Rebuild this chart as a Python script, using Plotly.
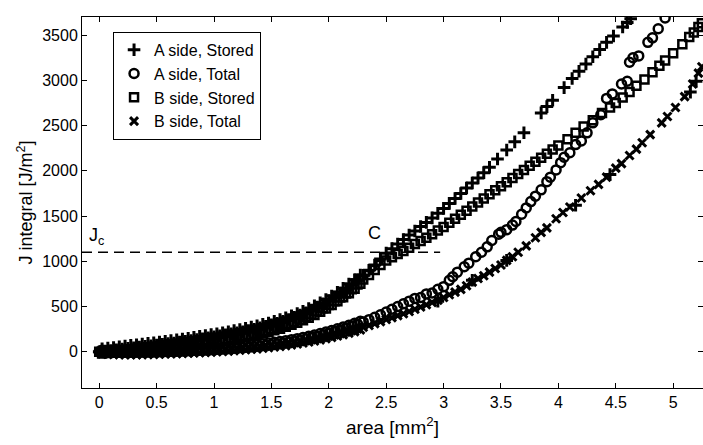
import plotly.graph_objects as go

# ---------------- data ----------------
x_low = [0.00, 0.05, 0.10, 0.15, 0.20, 0.25, 0.30, 0.35, 0.40, 0.45, 0.50, 0.55, 0.60, 0.65, 0.70,
         0.75, 0.80, 0.85, 0.90, 0.95, 1.00, 1.05, 1.10, 1.15, 1.20, 1.25, 1.30, 1.35, 1.40, 1.45,
         1.50, 1.55, 1.60, 1.65, 1.70, 1.75, 1.80, 1.85, 1.90, 1.95, 2.00, 2.05, 2.10, 2.15, 2.20,
         2.25, 2.30, 2.35, 2.40, 2.45, 2.50]

# extra samples in the dense (solid-looking) part of the bands
x_mid = [0.025, 0.075, 0.125, 0.175, 0.225, 0.275, 0.325, 0.375, 0.425, 0.475, 0.525, 0.575,
         0.625, 0.675, 0.725, 0.775, 0.825, 0.875, 0.925, 0.975, 1.025, 1.075, 1.125, 1.175,
         1.225, 1.275, 1.325, 1.375, 1.425, 1.475, 1.525, 1.575, 1.625, 1.675, 1.725, 1.775,
         1.825, 1.875, 1.925, 1.975, 2.025, 2.075, 2.125, 2.175, 2.225, 2.275]

a_stored_x = x_low + [2.55, 2.60, 2.65, 2.70, 2.75, 2.80, 2.85, 2.90, 2.95, 3.00, 3.05, 3.10, 3.15,
                      3.20, 3.25, 3.30, 3.35, 3.40, 3.47, 3.55, 3.62, 3.70, 3.85, 3.90, 3.95, 4.05,
                      4.12, 4.18, 4.24, 4.30, 4.36, 4.42, 4.48, 4.56, 4.60, 4.63]
a_stored_y = [0, 8, 15, 22, 30, 38, 45, 52, 60, 66, 74, 82, 90, 98, 107, 116, 125, 135, 145, 155,
              165, 176, 187, 198, 210, 222, 236, 250, 265, 281, 298, 316, 336, 357, 380, 405, 432,
              462, 495, 530, 567, 607, 650, 695, 742, 792, 845, 900, 960, 1025, 1090,
              1140, 1190, 1240, 1290, 1335, 1385, 1430, 1480, 1530, 1585, 1640, 1695, 1750,
              1810, 1865, 1920, 1980, 2040, 2130, 2230, 2320, 2420, 2640, 2710, 2780, 2920,
              3020, 3100, 3180, 3260, 3340, 3420, 3490, 3590, 3640, 3680]
a_stored_mid_y = [34, 41, 48, 56, 64, 71, 78, 86, 93, 100, 108, 116, 124, 132, 141, 150, 160, 170,
                  180, 190, 200, 211, 222, 234, 246, 259, 273, 287, 303, 319, 337, 356, 376, 398,
                  422, 448, 477, 508, 542, 578, 617, 658, 702, 748, 797, 848]

# a few "+" marks that sit on the lowest curve
a_stored_low_x = [2.95, 3.25, 3.55, 4.15, 4.45, 5.15, 5.20]
a_stored_low_y = [560, 790, 1010, 1620, 1960, 2870, 2990]

a_total_x = x_low + [2.55, 2.60, 2.65, 2.70, 2.75, 2.80, 2.85, 2.90, 2.95, 3.00, 3.05, 3.08, 3.12,
                     3.18, 3.22, 3.28, 3.33, 3.38, 3.42, 3.48, 3.50, 3.55, 3.60, 3.63, 3.68, 3.72,
                     3.76, 3.80, 3.85, 3.90, 3.93, 3.98, 4.02, 4.05, 4.10, 4.15, 4.20, 4.25, 4.30,
                     4.37, 4.42, 4.47, 4.55, 4.60, 4.62, 4.65, 4.70, 4.78, 4.82, 4.87, 4.93]
a_total_y = [0, -3, -6, -8, -9, -9, -9, -8, -7, -6, -4, -2, 0, 2, 4, 6, 9, 12, 15, 18, 22, 26, 30,
             35, 40, 45, 51, 57, 64, 72, 80, 89, 98, 108, 119, 131, 144, 158, 173, 189, 206, 224,
             243, 263, 284, 306, 330, 355, 382, 410, 440,
             470, 500, 530, 560, 590, 600, 640, 650, 690, 720, 790, 830, 880,
             940, 980, 1050, 1100, 1160, 1230, 1300, 1320, 1350, 1400, 1440, 1520, 1590,
             1660, 1720, 1790, 1880, 1930, 2010, 2090, 2150, 2200, 2290, 2330, 2420, 2530,
             2620, 2800, 2850, 2960, 2990, 3200, 3250, 3270, 3420, 3470, 3570, 3690]
a_total_mid_y = [18, 15, 13, 12, 11, 11, 12, 13, 14, 15, 17, 19, 21, 23, 25, 28, 31, 34, 37, 40,
                 44, 48, 53, 58, 63, 68, 74, 81, 88, 96, 105, 114, 123, 134, 145, 158, 171, 186,
                 201, 218, 235, 254, 273, 294, 315, 338]

b_stored_x = x_low + [2.55, 2.60, 2.65, 2.70, 2.75, 2.80, 2.85, 2.90, 2.95, 3.00, 3.05, 3.10, 3.15,
                      3.20, 3.25, 3.30, 3.35, 3.40, 3.45, 3.50, 3.55, 3.60, 3.65, 3.70, 3.75, 3.80,
                      3.85, 3.90, 3.95, 4.00, 4.08, 4.15, 4.22, 4.30, 4.38, 4.45, 4.50, 4.56, 4.62,
                      4.68, 4.75, 4.82, 4.88, 4.93, 5.00, 5.08, 5.14, 5.18, 5.22, 5.25]
b_stored_y = [0, 4, 8, 13, 18, 23, 28, 33, 38, 44, 50, 56, 62, 68, 75, 82, 89, 97, 105, 113, 122,
              131, 141, 151, 162, 174, 187, 200, 215, 231, 248, 266, 286, 307, 330, 355, 382, 412,
              445, 480, 518, 558, 600, 645, 692, 745, 800, 850, 905, 960, 1010,
              1045, 1080, 1115, 1150, 1190, 1225, 1260, 1300, 1340, 1380, 1425, 1470, 1515,
              1560, 1605, 1650, 1695, 1740, 1785, 1830, 1875, 1920, 1965, 2010, 2055, 2100,
              2145, 2190, 2235, 2280, 2350, 2420, 2490, 2560, 2640, 2700, 2750, 2810, 2870,
              2940, 3010, 3090, 3160, 3220, 3300, 3400, 3480, 3530, 3590, 3630]
b_stored_mid_y = [-18, -14, -10, -5, 0, 5, 10, 15, 21, 27, 33, 39, 45, 51, 58, 65, 73, 81, 89, 97,
                  106, 116, 126, 136, 148, 160, 173, 187, 203, 219, 237, 256, 276, 298, 322, 348,
                  377, 408, 442, 479, 518, 559, 602, 648, 698, 752]

b_total_x = x_low + [2.55, 2.60, 2.65, 2.70, 2.75, 2.80, 2.85, 2.90, 2.95, 3.00, 3.05, 3.10, 3.15,
                     3.20, 3.25, 3.30, 3.35, 3.40, 3.45, 3.50, 3.55, 3.60, 3.65, 3.72, 3.80, 3.85,
                     3.90, 3.98, 4.04, 4.10, 4.20, 4.28, 4.35, 4.42, 4.50, 4.55, 4.62, 4.68, 4.73,
                     4.80, 4.90, 4.95, 5.02, 5.10, 5.17, 5.22, 5.25]
b_total_y = [0, -5, -8, -10, -12, -12, -12, -11, -10, -9, -7, -5, -3, -1, 1, 3, 6, 9, 12, 15, 18,
             22, 26, 30, 35, 40, 45, 50, 56, 62, 69, 76, 84, 92, 101, 111, 122, 133, 145, 158, 172,
             186, 201, 217, 234, 252, 271, 291, 312, 334, 357,
             378, 400, 420, 445, 470, 495, 520, 545, 570, 600, 630, 660, 690,
             730, 770, 810, 840, 880, 920, 960, 1010, 1050, 1100, 1170, 1260, 1320,
             1370, 1470, 1540, 1600, 1700, 1780, 1850, 1930, 2030, 2080, 2170, 2240, 2310,
             2400, 2530, 2600, 2700, 2820, 2960, 3080, 3150]
b_total_mid_y = [-23, -27, -29, -31, -32, -32, -32, -31, -30, -28, -26, -24, -22, -20, -18, -16,
                 -12, -10, -6, -3, 0, 4, 8, 13, 18, 23, 28, 33, 39, 46, 53, 60, 68, 77, 86, 97,
                 108, 119, 132, 145, 159, 174, 189, 206, 223, 242]

series_names = ["A side, Stored", "A side, Total", "B side, Stored", "B side, Total"]

jc_value = 1100
jc_x_range = [-0.15, 2.97]

x_ticks = [0, 0.5, 1, 1.5, 2, 2.5, 3, 3.5, 4, 4.5, 5]
x_tick_text = ["0", "0.5", "1", "1.5", "2", "2.5", "3", "3.5", "4", "4.5", "5"]
y_ticks = [0, 500, 1000, 1500, 2000, 2500, 3000, 3500]

# ---------------- figure ----------------
BLACK = "black"
FONT = "Liberation Sans, Arial, Helvetica, sans-serif"

m_plus = dict(symbol="cross-thin", size=9, color=BLACK, line=dict(color=BLACK, width=3))
m_circ = dict(symbol="circle-open", size=9, color=BLACK, line=dict(color=BLACK, width=2.5))
m_sq = dict(symbol="square-open", size=8, color=BLACK, line=dict(color=BLACK, width=2.5))
m_x = dict(symbol="x-thin", size=8, color=BLACK, line=dict(color=BLACK, width=3))

fig = go.Figure()

fig.add_trace(go.Scatter(x=a_stored_x, y=a_stored_y, mode="markers", name=series_names[0],
                         marker=m_plus, legendrank=1))
fig.add_trace(go.Scatter(x=a_total_x, y=a_total_y, mode="markers", name=series_names[1],
                         marker=m_circ, legendrank=2))
fig.add_trace(go.Scatter(x=b_stored_x, y=b_stored_y, mode="markers", name=series_names[2],
                         marker=m_sq, legendrank=3))
fig.add_trace(go.Scatter(x=b_total_x, y=b_total_y, mode="markers", name=series_names[3],
                         marker=m_x, legendrank=4))

fig.add_trace(go.Scatter(x=x_mid, y=a_stored_mid_y, mode="markers", showlegend=False, marker=m_plus))
fig.add_trace(go.Scatter(x=x_mid, y=a_total_mid_y, mode="markers", showlegend=False, marker=m_circ))
fig.add_trace(go.Scatter(x=x_mid, y=b_stored_mid_y, mode="markers", showlegend=False, marker=m_sq))
fig.add_trace(go.Scatter(x=x_mid, y=b_total_mid_y, mode="markers", showlegend=False, marker=m_x))
fig.add_trace(go.Scatter(x=a_stored_low_x, y=a_stored_low_y, mode="markers", showlegend=False,
                         marker=m_plus))

fig.add_shape(type="line", xref="x", yref="y",
              x0=jc_x_range[0], x1=jc_x_range[1], y0=jc_value, y1=jc_value,
              line=dict(color=BLACK, width=1.5, dash="10px,6px"))

fig.add_annotation(x=-0.02, y=1270, xref="x", yref="y", text="J<sub>c</sub>",
                   showarrow=False, font=dict(size=18, color=BLACK, family=FONT))
fig.add_annotation(x=2.40, y=1310, xref="x", yref="y", text="C",
                   showarrow=False, font=dict(size=18, color=BLACK, family=FONT))

axis_common = dict(showline=True, linecolor=BLACK, linewidth=1, mirror="allticks",
                   ticks="inside", ticklen=5, tickwidth=1, tickcolor=BLACK,
                   showgrid=False, zeroline=False,
                   tickfont=dict(size=16, color=BLACK, family=FONT))

fig.update_xaxes(range=[-0.15, 5.26], tickmode="array", tickvals=x_ticks, ticktext=x_tick_text,
                 title=dict(text="area [mm<sup>2</sup>]", font=dict(size=19, color=BLACK, family=FONT),
                            standoff=10),
                 **axis_common)
fig.update_yaxes(range=[-400, 3700], tickmode="array", tickvals=y_ticks,
                 title=dict(text="J integral [J/m<sup>2</sup>]", font=dict(size=18, color=BLACK, family=FONT),
                            standoff=4),
                 **axis_common)

fig.update_layout(
    width=703, height=445,
    margin=dict(l=82, r=0, t=17, b=57),
    paper_bgcolor="white", plot_bgcolor="white",
    font=dict(family=FONT, color=BLACK),
    legend=dict(x=0.05, y=0.96, xanchor="left", yanchor="top",
                bgcolor="white", bordercolor=BLACK, borderwidth=1,
                font=dict(size=16, color=BLACK, family=FONT),
                tracegroupgap=0, itemwidth=30),
    showlegend=True,
)

fig.write_html("out.html")
